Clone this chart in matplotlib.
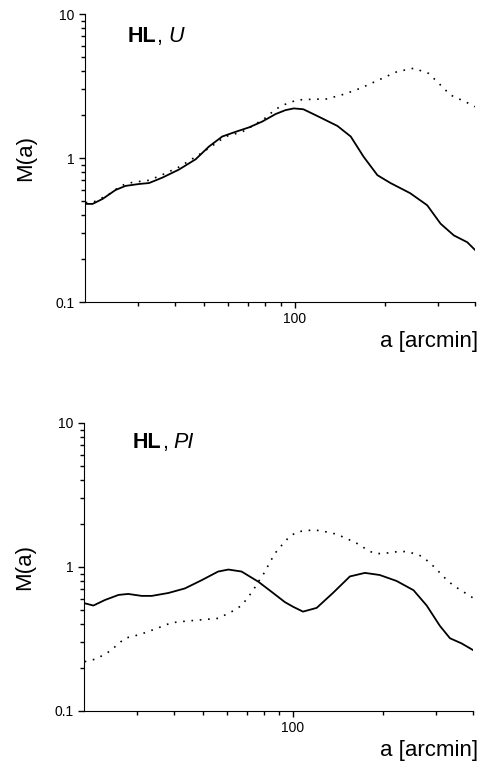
import matplotlib
matplotlib.use('Agg')
import matplotlib.pyplot as plt
from matplotlib.ticker import LogLocator, FixedLocator, NullFormatter, FixedFormatter

plt.rcParams['font.family'] = ['Liberation Sans', 'DejaVu Sans']

# 上图 U：实线
a_u = [20.1, 21.2, 22.9, 25.3, 27.3, 30.3, 32.7, 36.2, 41.1, 46.8, 51.8, 57.4, 63.6, 70.4, 78.0,
       86.5, 93.3, 99.5, 107, 119, 139, 154, 170, 189, 209, 243, 277, 307, 340, 377, 400]
m_u = [0.48, 0.48, 0.52, 0.60, 0.64, 0.66, 0.67, 0.73, 0.83, 0.98, 1.20, 1.41, 1.52, 1.63, 1.79,
       2.02, 2.15, 2.21, 2.18, 1.96, 1.67, 1.41, 1.02, 0.76, 0.67, 0.57, 0.47, 0.35, 0.29, 0.26, 0.23]
# 上图 U：点线
a_u2 = [20.1, 21.7, 24.4, 26.0, 27.3, 29.1, 32.7, 37.0, 41.4, 46.8, 49.9, 58.9, 66.9, 70.4, 80.0,
        85.3, 90.5, 102, 116, 128, 146, 166, 193, 220, 250, 280, 299, 331, 377, 400]
m_u2 = [0.49, 0.50, 0.57, 0.63, 0.66, 0.68, 0.70, 0.78, 0.87, 1.02, 1.11, 1.41, 1.52, 1.61, 1.90,
        2.13, 2.31, 2.53, 2.56, 2.57, 2.77, 3.05, 3.52, 3.98, 4.20, 3.87, 3.39, 2.74, 2.42, 2.27]

# 下图 PI：实线
a_p = [20.1, 21.5, 23.5, 26.1, 28.1, 31.2, 33.7, 38.3, 43.5, 49.5, 56.2, 60.8, 67.3, 76.6, 85.0,
       94.0, 100, 108, 120, 136, 155, 174, 195, 222, 253, 280, 310, 335, 366, 400]
m_p = [0.56, 0.54, 0.59, 0.64, 0.65, 0.63, 0.63, 0.66, 0.71, 0.81, 0.93, 0.96, 0.93, 0.79, 0.67,
       0.57, 0.53, 0.49, 0.52, 0.66, 0.86, 0.91, 0.88, 0.80, 0.69, 0.54, 0.39, 0.32, 0.295, 0.265]
# 下图 PI：点线
a_p2 = [20.1, 22.0, 24.4, 27.4, 30.8, 34.5, 39.2, 43.5, 49.5, 56.2, 62.4, 67.3, 70.9, 73.6, 76.6,
        79.6, 85.0, 88.2, 92.9, 97.7, 104, 117, 125, 140, 157, 168, 177, 188, 200, 225, 240, 254,
        269, 287, 304, 322, 342, 364, 386, 400]
m_p2 = [0.22, 0.23, 0.26, 0.32, 0.34, 0.37, 0.41, 0.42, 0.43, 0.44, 0.49, 0.54, 0.62, 0.69, 0.79,
        0.89, 1.14, 1.29, 1.46, 1.64, 1.76, 1.81, 1.78, 1.69, 1.52, 1.42, 1.31, 1.24, 1.24, 1.28, 1.28, 1.24,
        1.19, 1.07, 0.95, 0.84, 0.75, 0.69, 0.64, 0.61]

fig = plt.figure(figsize=(4.82, 7.62), dpi=100)
ax1 = fig.add_axes([85/482, 1-302/762, 390/482, 288/762])
ax2 = fig.add_axes([84/482, 1-711/762, 389/482, 288/762])


def setup(ax, name, tx, ty, xl):
    ax.set_xscale('log')
    ax.set_yscale('log')
    ax.set_xlim(20, 400)
    ax.set_ylim(0.1, 10)
    ax.spines['right'].set_visible(False)
    ax.spines['top'].set_visible(False)
    ax.xaxis.set_major_locator(FixedLocator([100]))
    ax.xaxis.set_major_formatter(FixedFormatter(['100']))
    ax.xaxis.set_minor_locator(FixedLocator([30, 40, 50, 60, 70, 80, 90, 200, 300, 400]))
    ax.xaxis.set_minor_formatter(NullFormatter())
    ax.yaxis.set_major_locator(FixedLocator([0.1, 1, 10]))
    ax.yaxis.set_major_formatter(FixedFormatter(['0.1', '1', '10']))
    ax.yaxis.set_minor_locator(LogLocator(base=10, subs=range(2, 10)))
    ax.yaxis.set_minor_formatter(NullFormatter())
    ax.tick_params(which='major', length=4.5, width=1, labelsize=10, pad=3)
    ax.tick_params(which='minor', length=3, width=1)
    ax.set_ylabel('M(a)', fontsize=16)
    ax.yaxis.set_label_coords(-0.125, 0.5)
    ax.set_xlabel('a [arcmin]', fontsize=16, loc='right')
    ax.xaxis.set_label_coords(xl, -0.1)
    # 标题：粗体 HL + 逗号 + 斜体
    t = ax.text(tx, ty, 'HL', transform=ax.transAxes, fontsize=15.5, fontweight='bold',
                va='baseline')
    c = ax.annotate(',', xycoords=t, xy=(1, 0), fontsize=15.5, va='bottom')
    ax.annotate(name, xycoords=c, xy=(1, 0), xytext=(4, 0), textcoords='offset points',
                fontsize=15.5, style='italic', va='bottom')


ax1.plot(a_u, m_u, 'k-', lw=1.3)
ax1.plot(a_u2, m_u2, color='k', lw=1.2, linestyle=(0, (1, 4)))
setup(ax1, 'U', 0.11, 0.904, 1.008)

ax2.plot(a_p, m_p, 'k-', lw=1.3)
ax2.plot(a_p2, m_p2, color='k', lw=1.2, linestyle=(0, (1, 4)))
setup(ax2, 'PI', 0.126, 0.913, 1.013)

fig.savefig('out.png', dpi=100)
